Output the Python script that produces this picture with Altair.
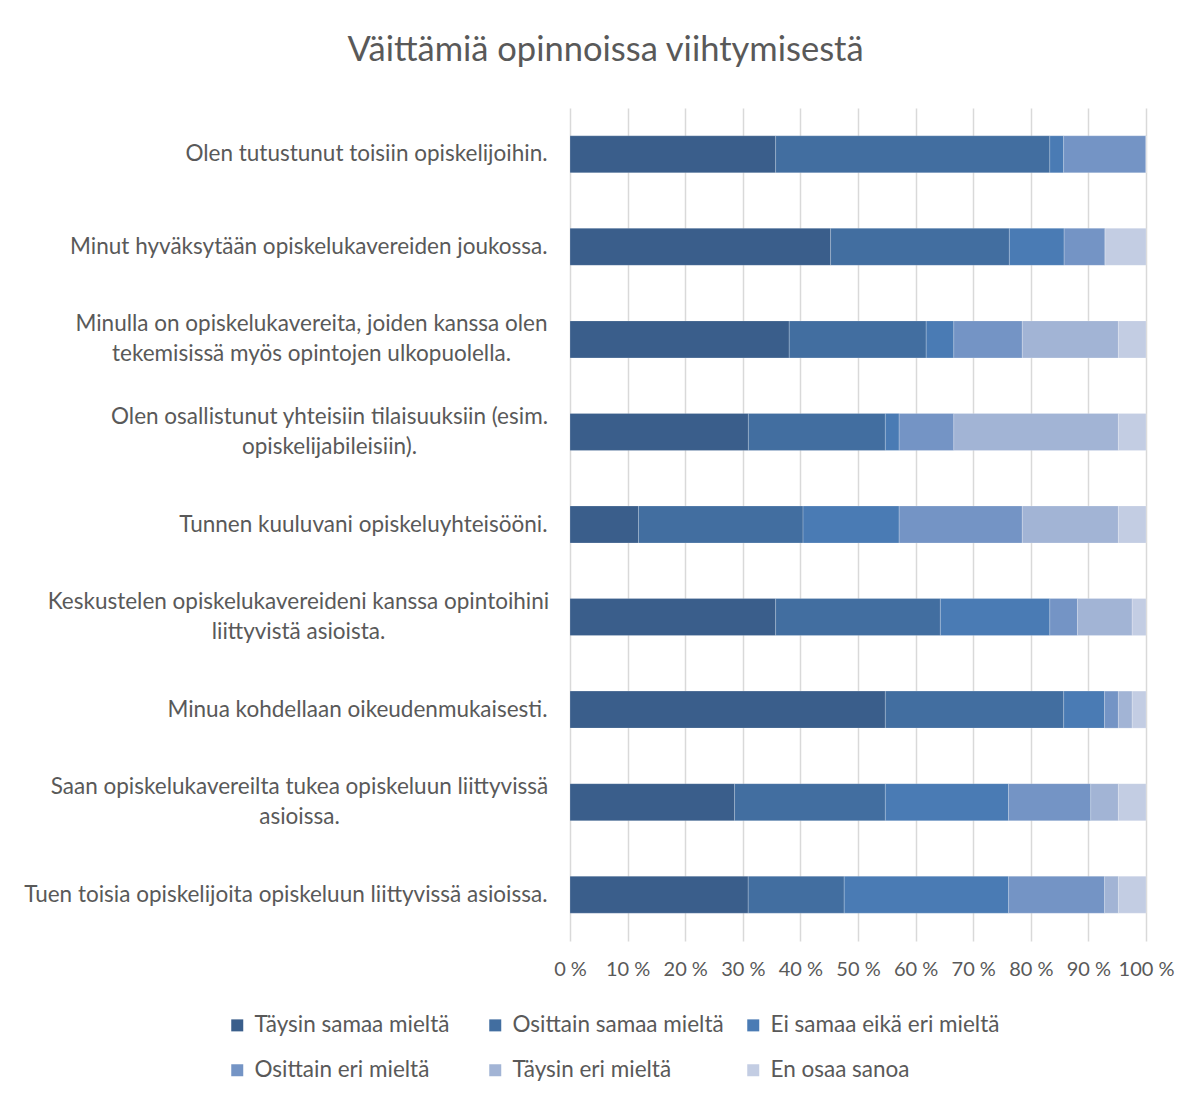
import altair as alt
import pandas as pd

categories = [
    "Olen tutustunut toisiin opiskelijoihin.",
    "Minut hyväksytään opiskelukavereiden joukossa.",
    "Minulla on opiskelukavereita, joiden kanssa olen\ntekemisissä myös opintojen ulkopuolella.",
    "Olen osallistunut yhteisiin tilaisuuksiin (esim.\nopiskelijabileisiin).",
    "Tunnen kuuluvani opiskeluyhteisööni.",
    "Keskustelen opiskelukavereideni kanssa opintoihini\nliittyvistä asioista.",
    "Minua kohdellaan oikeudenmukaisesti.",
    "Saan opiskelukavereilta tukea opiskeluun liittyvissä\nasioissa.",
    "Tuen toisia opiskelijoita opiskeluun liittyvissä asioissa.",
]

series = [
    "Täysin samaa mieltä",
    "Osittain samaa mieltä",
    "Ei samaa eikä eri mieltä",
    "Osittain eri mieltä",
    "Täysin eri mieltä",
    "En osaa sanoa",
]

taysin_samaa = [35.7, 45.2, 38.1, 31.0, 11.9, 35.7, 54.8, 28.6, 31.0]
osittain_samaa = [47.6, 31.0, 23.8, 23.8, 28.6, 28.6, 31.0, 26.2, 16.7]
ei_samaa_eika_eri = [2.4, 9.5, 4.8, 2.4, 16.7, 19.0, 7.1, 21.4, 28.6]
osittain_eri = [14.3, 7.1, 11.9, 9.5, 21.4, 4.8, 2.4, 14.3, 16.7]
taysin_eri = [0.0, 0.0, 16.7, 28.6, 16.7, 9.5, 2.4, 4.8, 2.4]
en_osaa = [0.0, 7.1, 4.8, 4.8, 4.8, 2.4, 2.4, 4.8, 4.8]

colors = ["#3A5E8B", "#426EA0", "#4A7BB4", "#7494C5", "#A2B4D5", "#C3CDE3"]

values_by_series = [taysin_samaa, osittain_samaa, ei_samaa_eika_eri,
                    osittain_eri, taysin_eri, en_osaa]

rows = []
for si, (s, vals) in enumerate(zip(series, values_by_series)):
    for c, v in zip(categories, vals):
        rows.append({"kategoria": c, "vastaus": s, "osuus": v, "jarjestys": si})
df = pd.DataFrame(rows)

FONT = "Lato"
TEXT = "#595959"
LABEL_SIZE = 22.5

# layout: for two-line labels, the lines are centred under the first line
# (distance in px from the plot edge to the centre of the label block)
two_line_centres = {
    "Minulla on": 259,
    "Olen osallistunut": 241,
    "Keskustelen": 272,
    "Saan": 271,
}

pad_conditions = [
    {"test": f"indexof(datum.value, '{k}') === 0", "value": v}
    for k, v in two_line_centres.items()
]
two_line_test = "indexof(datum.value, '\\n') >= 0"

chart = (
    alt.Chart(df)
    .mark_bar(stroke="#ffffff", strokeWidth=0.4, strokeOpacity=0.5)
    .encode(
        x=alt.X(
            "osuus:Q",
            stack="normalize",
            scale=alt.Scale(domain=[0, 1]),
            axis=alt.Axis(
                title=None,
                values=[i / 10 for i in range(11)],
                labelExpr="round(datum.value*100) + ' %'",
                labelOverlap=False,
                labelBound=False,
                labelFlush=False,
                grid=True,
                gridColor="#d9d9d9",
                gridWidth=1.5,
                domain=False,
                ticks=False,
                labelFont=FONT,
                labelFontSize=20,
                labelColor=TEXT,
                labelPadding=18,
            ),
        ),
        y=alt.Y(
            "kategoria:N",
            sort=categories,
            scale=alt.Scale(paddingInner=0.6, paddingOuter=0.3),
            axis=alt.Axis(
                title=None,
                labelExpr="split(datum.label, '\\n')",
                labelFont=FONT,
                labelFontSize=LABEL_SIZE,
                labelColor=TEXT,
                labelPadding={"condition": pad_conditions, "value": 23},
                labelAlign={"condition": {"test": two_line_test, "value": "center"}, "value": "right"},
                labelOffset={"condition": {"test": two_line_test, "value": -15}, "value": 0},
                labelLimit=700,
                labelLineHeight=30,
                labelOverlap=False,
                ticks=False,
                domain=False,
                minExtent=557,
                maxExtent=557,
            ),
        ),
        color=alt.Color(
            "vastaus:N",
            scale=alt.Scale(domain=series, range=colors),
            legend=alt.Legend(
                title=None,
                orient="none",
                direction="horizontal",
                legendX=-344,
                legendY=906,
                columns=3,
                gridAlign="all",
                columnPadding=-3,
                rowPadding=22,
                symbolType="square",
                symbolSize=144,
                symbolStrokeWidth=0,
                labelFont=FONT,
                labelFontSize=LABEL_SIZE,
                labelColor=TEXT,
                labelOffset=6,
                labelLimit=400,
                padding=0,
            ),
        ),
        order=alt.Order("jarjestys:Q", sort="ascending"),
    )
    .properties(
        width=576,
        height=833,
        title=alt.TitleParams(
            "Väittämiä opinnoissa viihtymisestä",
            font=FONT,
            fontSize=34.5,
            fontWeight="normal",
            color=TEXT,
            anchor="middle",
            frame="bounds",
            offset=40,
            dx=12,
        ),
        padding={"left": 5, "top": 24, "right": 10, "bottom": 10},
    )
    .configure_view(stroke=None)
)

chart.save("out.html", embed_options={"renderer": "svg", "actions": False})
